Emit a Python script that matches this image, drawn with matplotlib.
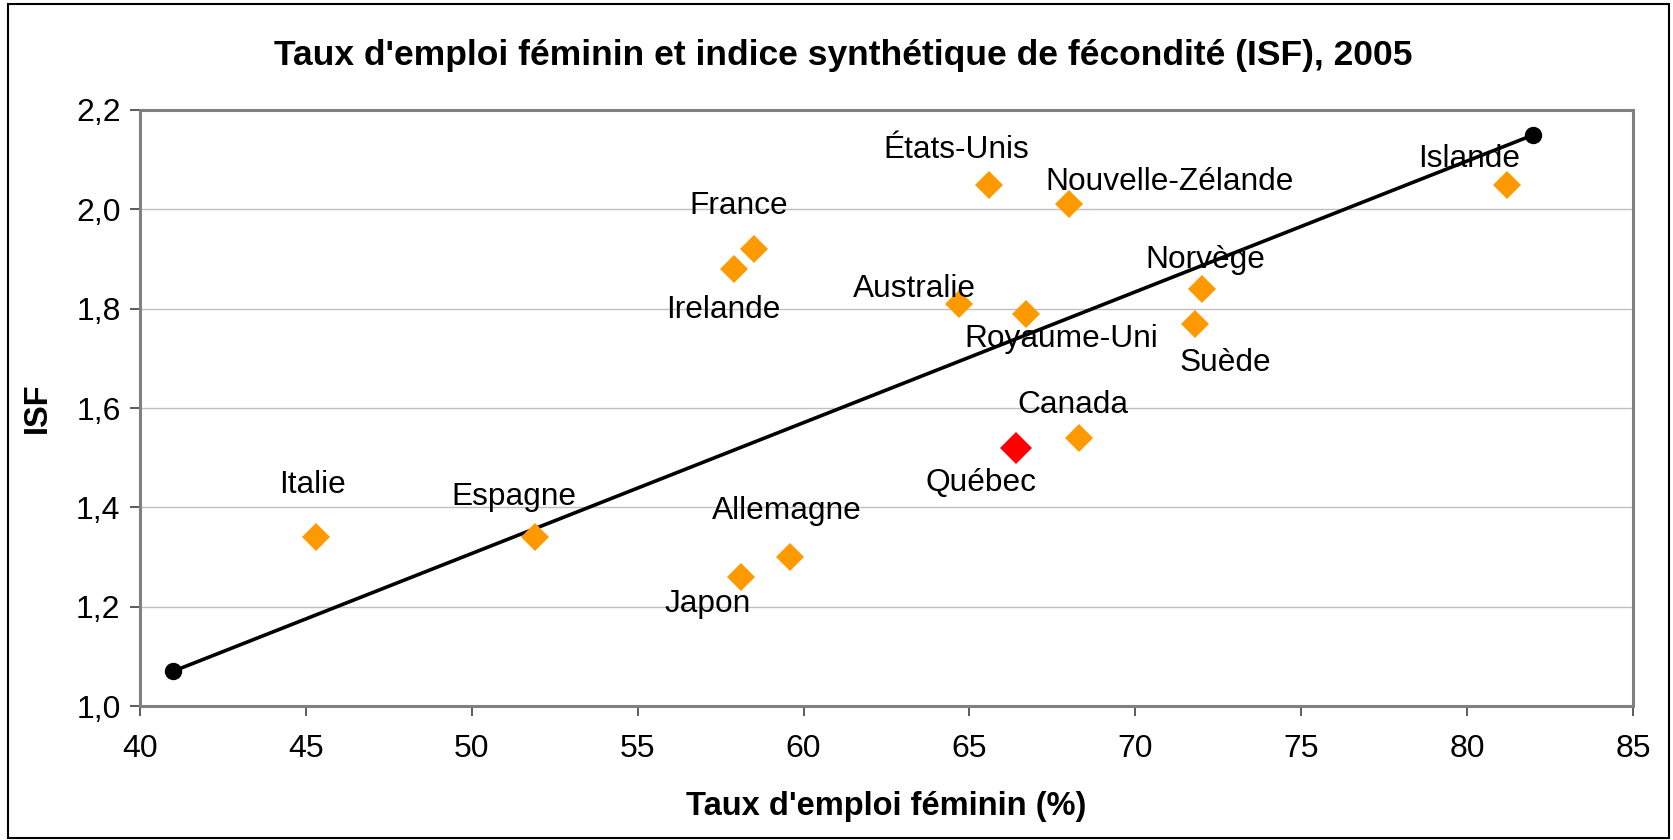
import matplotlib
matplotlib.use("Agg")
import matplotlib.pyplot as plt
from matplotlib.patches import Rectangle
from matplotlib.ticker import FuncFormatter, MultipleLocator

plt.rcParams['font.family'] = ['Liberation Sans', 'DejaVu Sans']

# Data
countries = ["Italie", "Espagne", "Japon", "Allemagne", "Irelande", "France",
             "Australie", "États-Unis", "Royaume-Uni", "Nouvelle-Zélande",
             "Canada", "Suède", "Norvège", "Islande"]
emploi = [45.3, 51.9, 58.1, 59.6, 57.9, 58.5, 64.7, 65.6, 66.7, 68.0,
          68.3, 71.8, 72.0, 81.2]
isf = [1.34, 1.34, 1.26, 1.30, 1.88, 1.92, 1.81, 2.05, 1.79, 2.01,
       1.54, 1.77, 1.84, 2.05]

quebec_name = "Québec"
quebec_emploi = 66.4
quebec_isf = 1.52

trend_x = [41, 82]
trend_y = [1.07, 2.15]

title = "Taux d'emploi féminin et indice synthétique de fécondité (ISF), 2005"
xlabel = "Taux d'emploi féminin (%)"
ylabel = "ISF"

# label offsets in pixels (style only)
offsets = {
    "Italie": (-3, 52), "Espagne": (-21, 40), "Japon": (-33, -27),
    "Allemagne": (-3, 46), "Irelande": (-11, -41), "France": (-15, 43),
    "Australie": (-45, 15), "États-Unis": (-33, 35), "Royaume-Uni": (35, -25),
    "Nouvelle-Zélande": (101, 22), "Canada": (-6, 33), "Suède": (30, -39),
    "Norvège": (4, 29), "Islande": (-38, 26), "Québec": (-35, -35),
}

W, H = 1673, 840
fig = plt.figure(figsize=(W / 100, H / 100), dpi=100)
ax = fig.add_axes([140 / W, 1 - 706 / H, (1633 - 140) / W, (706 - 110) / H])

ax.set_xlim(40, 85)
ax.set_ylim(1.0, 2.2)
ax.xaxis.set_major_locator(MultipleLocator(5))
ax.yaxis.set_major_locator(MultipleLocator(0.2))
ax.yaxis.set_major_formatter(FuncFormatter(lambda v, p: f"{v:.1f}".replace(".", ",")))
ax.grid(axis='y', color='#c0c0c0', linewidth=1.0)
ax.set_axisbelow(True)

for s in ax.spines.values():
    s.set_color('#808080')
    s.set_linewidth(2.2)

ax.tick_params(axis='both', direction='out', length=7, width=1.2, color='#404040',
               labelsize=23, labelcolor='black', pad=7)
ax.tick_params(axis='x', pad=13)

ax.plot(trend_x, trend_y, color='black', linewidth=2.6, marker='o',
        markersize=11.5, zorder=3)

ax.plot(emploi, isf, linestyle='none', marker='D', markersize=14.5,
        color='#FF9900', markeredgewidth=0, zorder=4)
ax.plot([quebec_emploi], [quebec_isf], linestyle='none', marker='D',
        markersize=16.5, color='#FF0000', markeredgewidth=0, zorder=4)

for name, x, y in zip(countries + [quebec_name], emploi + [quebec_emploi],
                      isf + [quebec_isf]):
    dx, dy = offsets[name]
    ax.annotate(name, (x, y), xytext=(dx, dy), textcoords='offset pixels',
                ha='center', va='center', fontsize=22.8, color='black', zorder=5)

fig.text(843 / W, 1 - 55 / H, title, ha='center', va='center',
         fontsize=25.5, fontweight='bold')
fig.text(886 / W, 1 - 807 / H, xlabel, ha='center', va='center',
         fontsize=23.5, fontweight='bold')
fig.text(37 / W, 1 - 408 / H, ylabel, ha='center', va='center',
         fontsize=23.5, fontweight='bold', rotation=90)

fig.patches.append(Rectangle((8 / W, 2 / H), (1669 - 8) / W, (836 - 2) / H,
                             transform=fig.transFigure, fill=False,
                             edgecolor='black', linewidth=1.5))

fig.savefig("out.png", dpi=100)
